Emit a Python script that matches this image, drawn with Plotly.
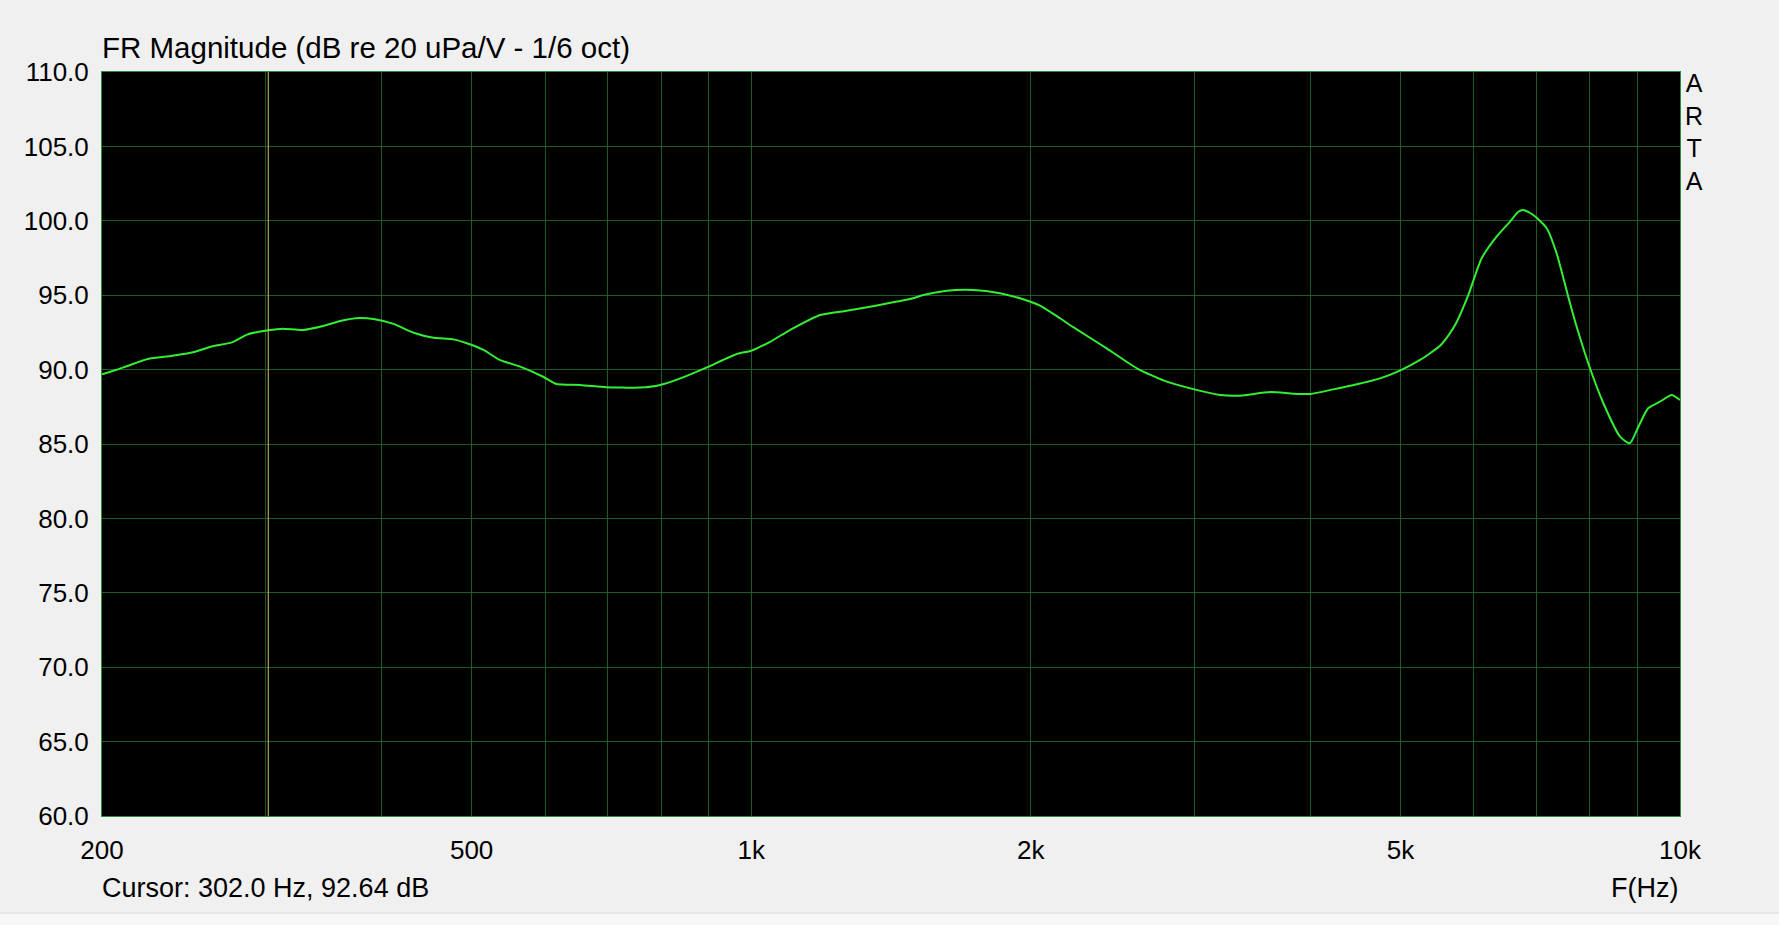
"""ARTA-style frequency response plot (FR magnitude, 1/6 oct smoothing)."""
import numpy as np
import plotly.graph_objects as go

freq_hz = [200, 207, 213, 224, 238, 252, 262, 276, 287, 302, 313, 329, 346, 361,
           379, 392, 412, 433, 455, 478, 494, 515, 536, 564, 597, 617, 654, 698,
           728, 759, 798, 839, 896, 965, 1000, 1048, 1101, 1186, 1267, 1343, 1434,
           1494, 1532, 1624, 1735, 1853, 1947, 2046, 2150, 2222, 2414, 2601, 2802,
           3000, 3198, 3360, 3620, 3834, 4000, 4234, 4488, 4754, 5000, 5250, 5382,
           5516, 5640, 5749, 5916, 6116, 6346, 6561, 6697, 6780, 6950, 7186, 7364,
           7580, 7740, 8000, 8270, 8620, 8830, 9020, 9240, 9515, 9795, 10000]
spl_db = [89.68, 89.97, 90.24, 90.71, 90.93, 91.20, 91.54, 91.83, 92.37, 92.64,
          92.75, 92.66, 92.93, 93.27, 93.47, 93.40, 93.07, 92.48, 92.14, 92.03,
          91.77, 91.32, 90.65, 90.20, 89.52, 89.03, 88.97, 88.81, 88.79, 88.79,
          88.97, 89.41, 90.15, 91.05, 91.27, 91.87, 92.66, 93.67, 93.96, 94.23,
          94.57, 94.79, 95.01, 95.30, 95.35, 95.13, 94.79, 94.30, 93.45, 92.85,
          91.43, 90.09, 89.19, 88.67, 88.29, 88.25, 88.49, 88.38, 88.36, 88.67,
          89.01, 89.41, 89.95, 90.65, 91.10, 91.60, 92.35, 93.20, 95.00, 97.48,
          98.93, 99.94, 100.61, 100.73, 100.39, 99.50, 97.82, 94.90, 92.88, 90.09,
          87.74, 85.49, 85.05, 86.16, 87.40, 87.84, 88.29, 87.96]

cursor_hz = 302.0
cursor_db = 92.64

# Axis grid / labels
x_grid = [200, 300, 400, 500, 600, 700, 800, 900, 1000, 2000, 3000, 4000,
          5000, 6000, 7000, 8000, 9000, 10000]
x_labels = {200: "200", 500: "500", 1000: "1k", 2000: "2k", 5000: "5k", 10000: "10k"}
y_ticks = [60, 65, 70, 75, 80, 85, 90, 95, 100, 105, 110]

BG = "#F0F0F0"
GRID = "#1F5A28"
FRAME = "#2E8B3E"
CURVE = "#33EE33"
FONT = "Arial, Liberation Sans, sans-serif"

fig = go.Figure()
fig.add_trace(go.Scatter(
    x=freq_hz, y=spl_db, mode="lines",
    line=dict(color=CURVE, width=2, shape="spline", smoothing=0.6),
    hoverinfo="skip", showlegend=False,
))
fig.add_vline(x=cursor_hz, line=dict(color="#C8C85A", width=1))

fig.update_xaxes(
    type="log", range=[np.log10(200), np.log10(10000)],
    tickvals=x_grid, ticktext=[x_labels.get(v, "") for v in x_grid],
    showgrid=True, gridcolor=GRID, gridwidth=1,
    ticks="outside", ticklen=11, tickcolor=BG,
    showline=True, linecolor=FRAME, linewidth=1, mirror=True,
    tickfont=dict(family=FONT, size=26, color="#000"),
    zeroline=False, fixedrange=True,
)
fig.update_yaxes(
    range=[60, 110], tickvals=y_ticks, tickformat=".1f",
    showgrid=True, gridcolor=GRID, gridwidth=1,
    ticks="outside", ticklen=7, tickcolor=BG,
    showline=True, linecolor=FRAME, linewidth=1, mirror=True,
    tickfont=dict(family=FONT, size=26, color="#000"),
    zeroline=False, fixedrange=True,
)

txt = dict(family=FONT, size=27, color="#000")
fig.add_annotation(text="FR Magnitude (dB re 20 uPa/V - 1/6 oct)", xref="paper", yref="paper",
                   x=-0.001, y=1.0336, xanchor="left", yanchor="middle", showarrow=False,
                   font=dict(family=FONT, size=29.5, color="#000"))
fig.add_annotation(text="A<br>R<br>T<br>A", xref="paper", yref="paper",
                   x=1.0089, y=0.9194, xanchor="center", yanchor="middle", showarrow=False,
                   font=dict(family=FONT, size=25, color="#000"))
fig.add_annotation(text=f"Cursor: {cursor_hz:.1f} Hz, {cursor_db:.2f} dB", xref="paper", yref="paper",
                   x=-0.001, y=-0.0968, xanchor="left", yanchor="middle", showarrow=False, font=txt)
fig.add_annotation(text="F(Hz)", xref="paper", yref="paper",
                   x=1.0, y=-0.0968, xanchor="right", yanchor="middle", showarrow=False, font=txt)

# thin separator / status strip at the very bottom of the window
fig.add_shape(type="rect", xref="paper", yref="paper", x0=-0.07, x1=1.07, y0=-0.1304, y1=-0.2,
              fillcolor="#F7F7F7", line=dict(width=0), layer="below")
fig.add_shape(type="line", xref="paper", yref="paper", x0=-0.07, x1=1.07, y0=-0.1304, y1=-0.1304,
              line=dict(color="#D9D9D9", width=1))

fig.update_layout(
    width=1779, height=925,
    margin=dict(l=102, r=99, t=72, b=109),
    paper_bgcolor=BG, plot_bgcolor="#000000",
    showlegend=False,
)

# page body has a default 8px margin; drop it so the figure fills the window
fig.write_html("out.html", config={"displayModeBar": False},
               post_script="document.body.style.margin='0';")
